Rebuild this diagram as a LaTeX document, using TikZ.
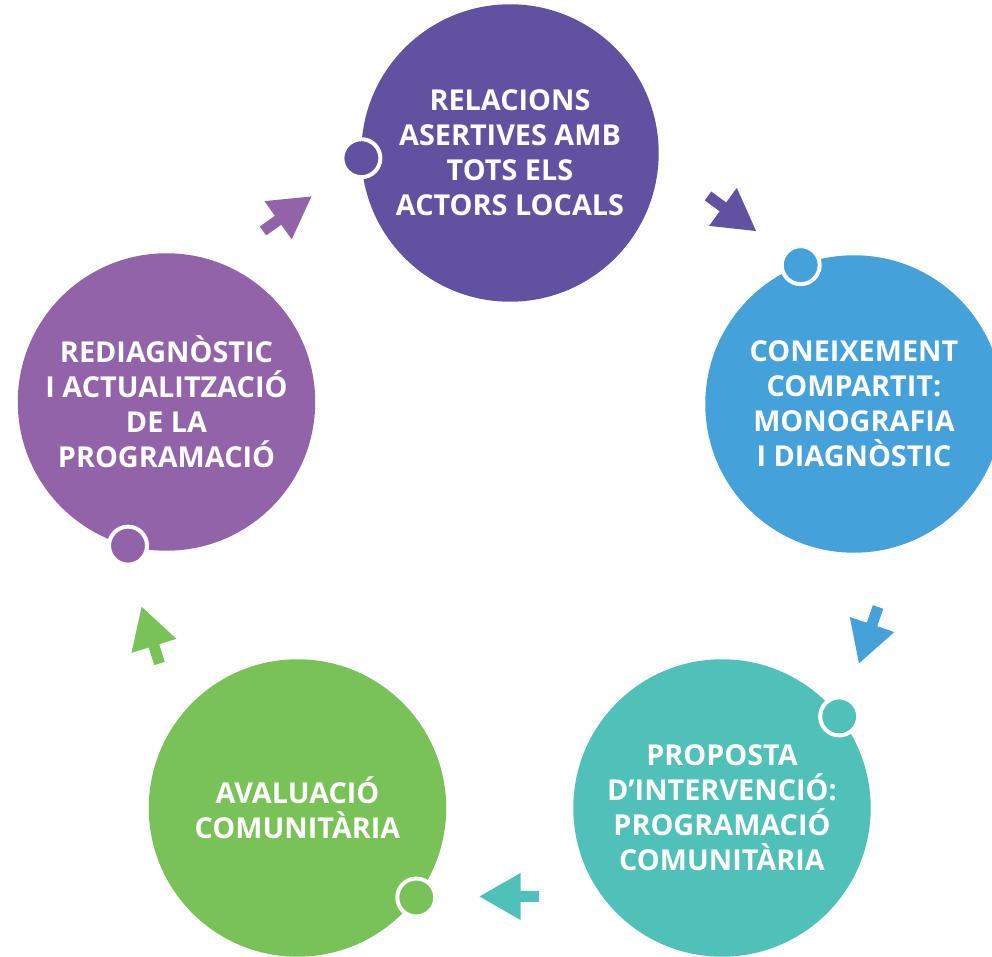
\documentclass[tikz,border=0pt]{standalone}
\usepackage{fontspec}
\setmainfont{Open Sans}
\usetikzlibrary{positioning}
\definecolor{mviolet}{HTML}{6151A1}
\definecolor{mlilac}{HTML}{9363A9}
\definecolor{mblue}{HTML}{44A1D9}
\definecolor{mteal}{HTML}{4FC1B8}
\definecolor{mgreen}{HTML}{78C257}
\tikzset{stage/.style = {circle, inner sep = 0, outer sep = 0, minimum size = 5.95cm,
                         fill = #1, text = white, align = center,
                         font = \bfseries\fontsize{16.4}{19.9}\selectfont}}
\tikzset{knob/.style = {circle, inner sep = 0, minimum size = 0.76cm,
                        fill = #1, draw = white, line width = 0.08cm}}
\tikzset{blockarrow/.pic = {\fill [#1] (0, -5.5) -- (18.5, -5.5) -- (18.5, -23.5)
                            -- (59.5, 0) -- (18.5, 23.5) -- (18.5, 5.5) -- (0, 5.5) -- cycle;}}

\begin{document}
\begin{tikzpicture}[x = 0.02cm, y = 0.02cm]
    \clip (0, 0) rectangle (992, 957);

    \node [stage = mviolet] (rel) at (510, 804) {RELACIONS\\ASERTIVES AMB\\TOTS ELS\\ACTORS LOCALS};
    \node [stage = mblue] (con) at (854, 553) {CONEIXEMENT\\COMPARTIT:\\MONOGRAFIA\\I DIAGNÒSTIC};
    \node [stage = mteal] (pro) at (722, 149) {PROPOSTA\\D’INTERVENCIÓ:\\PROGRAMACIÓ\\COMUNITÀRIA};
    \node [stage = mgreen] (ava) at (297.5, 149) {AVALUACIÓ\\COMUNITÀRIA};
    \node [stage = mlilac] (red) at (166.5, 555) {REDIAGNÒSTIC\\I ACTUALITZACIÓ\\DE LA\\PROGRAMACIÓ};

    \node [knob = mviolet] (relk) at (rel.182.7) {};
    \node [knob = mblue] (conk) at (con.111.6) {};
    \node [knob = mteal] (prok) at (pro.38) {};
    \node [knob = mgreen] (avak) at (ava.-37.9) {};
    \node [knob = mlilac] (redk) at (red.255.3) {};

    % arrows between the stages
    \coordinate (redrel) at (263, 726);
    \coordinate (relcon) at (708, 761);
    \coordinate (conpro) at (878, 350);
    \coordinate (proava) at (539, 60.5);
    \coordinate (avared) at (159.5, 293.5);
    \pic [rotate = 35.5] at (redrel) {blockarrow = mlilac};
    \pic [rotate = -36.1] at (relcon) {blockarrow = mviolet};
    \pic [rotate = 251.3] at (conpro) {blockarrow = mblue};
    \pic [rotate = 180] at (proava) {blockarrow = mteal};
    \pic [rotate = 107.5] at (avared) {blockarrow = mgreen};
  \end{tikzpicture}
\end{document}
